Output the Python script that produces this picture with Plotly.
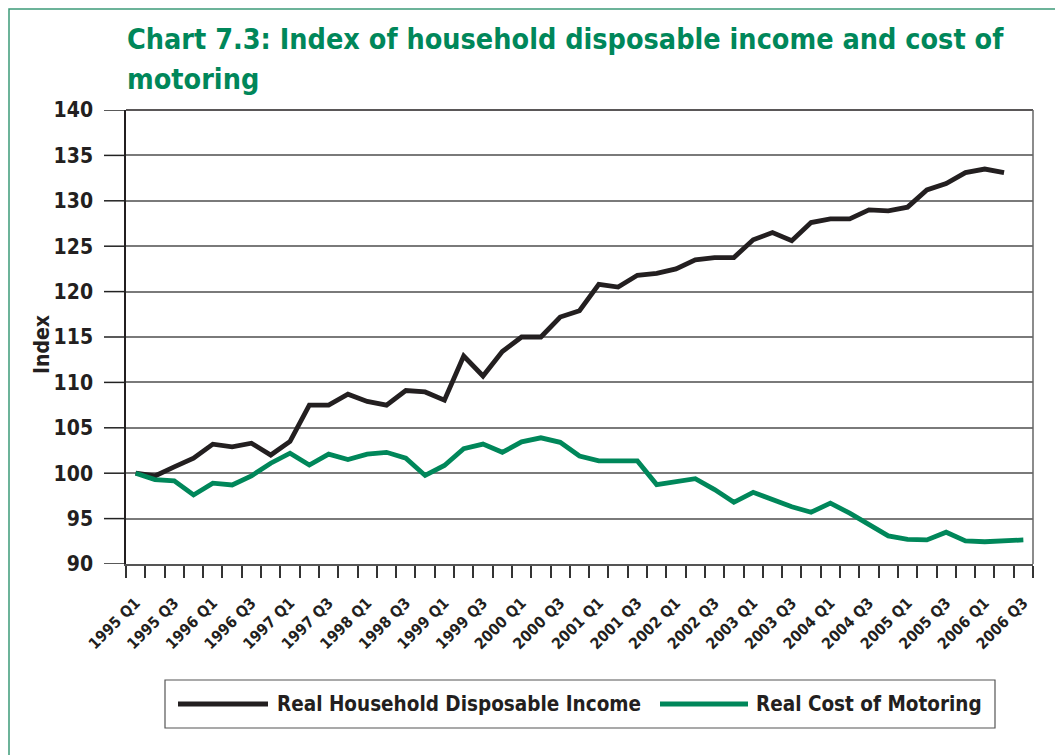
import plotly.graph_objects as go

quarters = [f"{y} Q{q}" for y in range(1995, 2007) for q in range(1, 5)][:47]

income = [100.0, 99.7, 100.7, 101.65, 103.2, 102.9, 103.3, 102.0, 103.5, 107.5,
          107.5, 108.7, 107.9, 107.5, 109.1, 108.95, 108.05, 112.9, 110.7, 113.4,
          115.0, 115.0, 117.2, 117.9, 120.8, 120.5, 121.8, 122.0, 122.5, 123.5,
          123.75, 123.75, 125.7, 126.5, 125.6, 127.6, 128.0, 128.0, 129.0, 128.9,
          129.3, 131.2, 131.9, 133.1, 133.5, 133.1, None]

motoring = [100.0, 99.3, 99.15, 97.6, 98.9, 98.7, 99.7, 101.1, 102.2, 100.9,
            102.1, 101.5, 102.1, 102.3, 101.65, 99.75, 100.85, 102.7, 103.2, 102.3,
            103.45, 103.9, 103.4, 101.9, 101.35, 101.4, 101.35, 98.75, 99.05, 99.4,
            98.2, 96.8, 97.9, 97.1, 96.3, 95.7, 96.7, 95.6, 94.3, 93.1,
            92.7, 92.65, 93.5, 92.55, 92.45, 92.55, 92.65]

series_names = ["Real Household Disposable Income", "Real Cost of Motoring"]
tick_labels = quarters[::2]
y_ticks = list(range(90, 141, 5))
title_lines = ["Chart 7.3: Index of household disposable income and cost of", "motoring"]

FONT = "DejaVu Sans Condensed, Liberation Sans Narrow, sans-serif"
BLACK = "#231F20"
GREEN = "#00875A"

# page has an 8px body margin; figure sized to fit the window
W, H = 1055, 747
OFF = 8
PL, PR, PT, PB = 126, 1033, 110, 564  # plot area in screen pixels


def px(xs):
    return (xs - PL) / (PR - PL)


def py(ys):
    return (PB - ys) / (PB - PT)


x_idx = list(range(len(quarters)))

fig = go.Figure()
fig.add_trace(go.Scatter(x=x_idx, y=income, mode="lines", name=series_names[0],
                         line=dict(color=BLACK, width=4.8), showlegend=False))
fig.add_trace(go.Scatter(x=x_idx, y=motoring, mode="lines", name=series_names[1],
                         line=dict(color=GREEN, width=4.8), showlegend=False))

fig.update_layout(
    width=W, height=H,
    margin=dict(l=PL - OFF, r=W - (PR - OFF), t=PT - OFF, b=H - (PB - OFF)),
    paper_bgcolor="white", plot_bgcolor="white",
    font=dict(family=FONT, color=BLACK),
    showlegend=False,
)

fig.update_xaxes(
    range=[-0.5, len(quarters) - 0.5],
    tickmode="array",
    tickvals=x_idx[::2],
    ticktext=[f"<b>{t}</b>" for t in tick_labels],
    tickangle=-45,
    ticks="outside", ticklen=22, tickcolor="rgba(0,0,0,0)",
    tickfont=dict(size=15.5, color=BLACK, family=FONT),
    showgrid=False,
    showline=True, linecolor="#555555", linewidth=1.5, mirror=False,
    minor=dict(ticks="outside", tick0=-0.5, dtick=1, ticklen=12, tickcolor="#333333",
               tickwidth=1.5, showgrid=False),
    zeroline=False,
)

fig.update_yaxes(
    range=[90, 140],
    tickmode="array",
    tickvals=y_ticks,
    ticktext=[f"<b>{v}</b>" for v in y_ticks],
    ticks="", ticklabelstandoff=27,
    tickfont=dict(size=21, color=BLACK, family=FONT),
    showgrid=True, gridcolor="#7a7a7a", gridwidth=1.5,
    showline=True, linecolor=BLACK, linewidth=1.5,
    zeroline=False,
)

shapes = [
    # darker baseline at 100, top border, right border
    dict(type="line", xref="paper", yref="y", x0=0, x1=1, y0=100, y1=100,
         line=dict(color=BLACK, width=1.2), layer="below"),
    dict(type="line", xref="paper", yref="paper", x0=0, x1=1, y0=1, y1=1,
         line=dict(color=BLACK, width=1.5)),
    dict(type="line", xref="paper", yref="paper", x0=1, x1=1, y0=0, y1=1,
         line=dict(color="#666666", width=1.5)),
    # green frame around the figure (top and left edges visible)
    dict(type="rect", xref="paper", yref="paper",
         x0=px(9), x1=px(1080), y0=py(780), y1=py(9),
         line=dict(color="#3C9A78", width=1.5)),
    # legend box
    dict(type="rect", xref="paper", yref="paper",
         x0=px(165), x1=px(995), y0=py(728), y1=py(680),
         line=dict(color="#555555", width=1.2), fillcolor="white"),
    dict(type="line", xref="paper", yref="paper", x0=px(178), x1=px(268), y0=py(704), y1=py(704),
         line=dict(color=BLACK, width=5)),
    dict(type="line", xref="paper", yref="paper", x0=px(660), x1=px(748), y0=py(704), y1=py(704),
         line=dict(color=GREEN, width=5)),
]
# y-axis tick marks to the left of the axis
for v in y_ticks:
    shapes.append(dict(type="line", xref="paper", yref="y", x0=px(104), x1=0, y0=v, y1=v,
                       line=dict(color="#222222", width=1.5)))

annotations = [
    dict(text=f"<b>{title_lines[0]}</b>", xref="paper", yref="paper", x=px(125), y=py(40),
         xanchor="left", yanchor="middle", showarrow=False,
         font=dict(size=28.5, color=GREEN, family=FONT)),
    dict(text=f"<b>{title_lines[1]}</b>", xref="paper", yref="paper", x=px(125), y=py(80),
         xanchor="left", yanchor="middle", showarrow=False,
         font=dict(size=28.5, color=GREEN, family=FONT)),
    dict(text="<b>Index</b>", xref="paper", yref="paper", x=px(42), y=py(345),
         xanchor="center", yanchor="middle", textangle=-90, showarrow=False,
         font=dict(size=21, color=BLACK, family=FONT)),
    dict(text=f"<b>{series_names[0]}</b>", xref="paper", yref="paper", x=px(275), y=py(704),
         xanchor="left", yanchor="middle", showarrow=False,
         font=dict(size=20.5, color=BLACK, family=FONT)),
    dict(text=f"<b>{series_names[1]}</b>", xref="paper", yref="paper", x=px(754), y=py(704),
         xanchor="left", yanchor="middle", showarrow=False,
         font=dict(size=20.5, color=BLACK, family=FONT)),
]

fig.update_layout(shapes=shapes, annotations=annotations)

fig.write_html("out.html")
